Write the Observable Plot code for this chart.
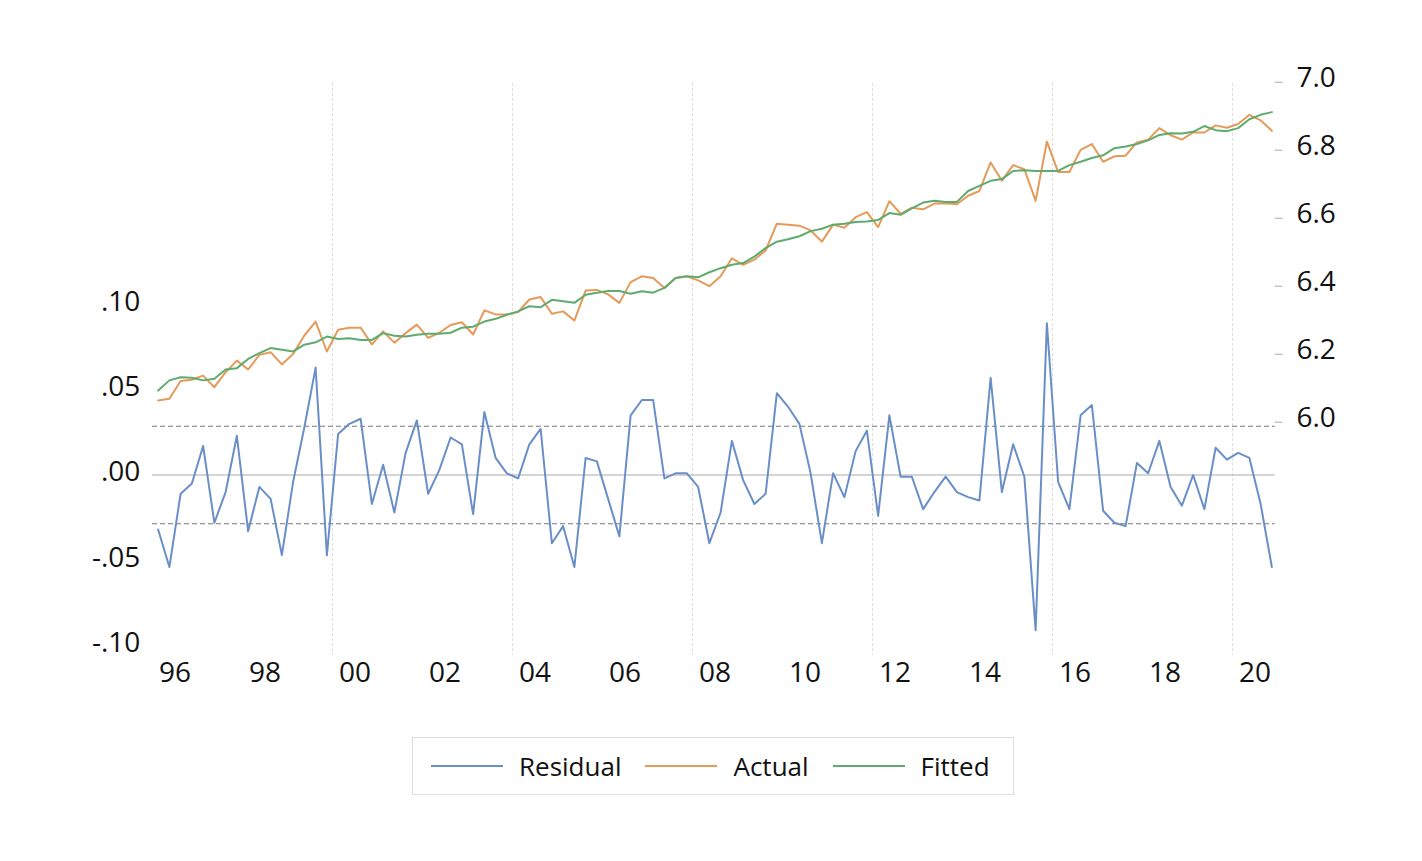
<!DOCTYPE html>
<html><head><meta charset="utf-8">
<script src="https://cdn.jsdelivr.net/npm/d3@7"></script>
<script src="https://cdn.jsdelivr.net/npm/@observablehq/plot@0.6"></script>
<style>
body{margin:0;background:#fff;font-family:"Open Sans",sans-serif;}
#legend{position:absolute;left:412px;top:737px;width:600px;height:56px;border:1px solid #ddd;display:flex;align-items:center;font-size:26px;color:#111;}
.it{display:flex;align-items:center;margin-left:18px;}
.ln{width:72px;height:2px;margin-right:16px;}
</style></head><body>
<div id="chart"></div>
<div id="legend">
<div class="it"><div class="ln" style="background:#6a8fc8"></div>Residual</div>
<div class="it" style="margin-left:24px"><div class="ln" style="background:#e59a5a"></div>Actual</div>
<div class="it" style="margin-left:24px"><div class="ln" style="background:#5fab6e"></div>Fitted</div>
</div>
<script>
const startYear = 1996;
const residual = [-0.032,-0.054,-0.011,-0.005,0.017,-0.028,-0.010,0.023,-0.033,-0.007,-0.014,-0.047,-0.004,0.028,0.063,-0.047,0.024,0.030,0.033,-0.017,0.006,-0.022,0.013,0.032,-0.011,0.003,0.022,0.018,-0.023,0.037,0.010,0.001,-0.002,0.018,0.027,-0.040,-0.030,-0.054,0.010,0.008,-0.014,-0.036,0.035,0.044,0.044,-0.002,0.001,0.001,-0.007,-0.040,-0.022,0.020,-0.003,-0.017,-0.011,0.048,0.040,0.030,0.001,-0.040,0.001,-0.013,0.014,0.026,-0.024,0.035,-0.001,-0.001,-0.020,-0.010,-0.001,-0.010,-0.013,-0.015,0.057,-0.010,0.018,-0.001,-0.091,0.089,-0.004,-0.020,0.035,0.041,-0.021,-0.028,-0.030,0.007,0.001,0.020,-0.007,-0.018,0.000,-0.020,0.016,0.009,0.013,0.010,-0.017,-0.054];
const actual = [6.064,6.069,6.121,6.125,6.137,6.103,6.147,6.181,6.155,6.198,6.206,6.170,6.201,6.255,6.296,6.208,6.272,6.278,6.278,6.229,6.267,6.234,6.262,6.287,6.248,6.263,6.286,6.294,6.258,6.329,6.317,6.317,6.324,6.361,6.368,6.319,6.326,6.299,6.387,6.389,6.376,6.351,6.412,6.429,6.424,6.395,6.424,6.429,6.417,6.400,6.429,6.482,6.463,6.478,6.505,6.584,6.581,6.578,6.564,6.531,6.581,6.572,6.603,6.618,6.574,6.650,6.613,6.631,6.626,6.643,6.644,6.641,6.666,6.680,6.764,6.710,6.756,6.744,6.651,6.825,6.736,6.736,6.801,6.818,6.766,6.782,6.784,6.823,6.831,6.865,6.844,6.831,6.852,6.852,6.873,6.866,6.877,6.904,6.888,6.857];
const fitted = [6.093,6.123,6.132,6.131,6.123,6.128,6.155,6.159,6.186,6.203,6.218,6.213,6.208,6.228,6.235,6.252,6.245,6.247,6.242,6.242,6.262,6.254,6.252,6.257,6.260,6.260,6.263,6.278,6.281,6.296,6.304,6.316,6.326,6.341,6.338,6.360,6.356,6.351,6.375,6.381,6.386,6.386,6.378,6.385,6.381,6.395,6.424,6.429,6.426,6.441,6.453,6.463,6.468,6.487,6.512,6.531,6.538,6.547,6.562,6.569,6.581,6.584,6.589,6.590,6.595,6.615,6.610,6.629,6.646,6.651,6.648,6.648,6.680,6.695,6.710,6.715,6.739,6.741,6.739,6.739,6.739,6.756,6.766,6.777,6.785,6.806,6.811,6.818,6.829,6.845,6.850,6.849,6.854,6.871,6.859,6.856,6.865,6.891,6.904,6.912];
const leftTicks = [-0.10,-0.05,0,0.05,0.10];
const rightTicks = [6.0,6.2,6.4,6.6,6.8,7.0];
const yearLabels = [1996,1998,2000,2002,2004,2006,2008,2010,2012,2014,2016,2018,2020];
const gridYears = [2000,2004,2008,2012,2016,2020];
const sigma = 0.0286;

const lvl = v => (52.8 + (v - 6) * 340) / 1705;
const t = i => startYear + i / 4 + 0.125;
const rows = residual.map((r, i) => ({t: t(i), r, a: lvl(actual[i]), f: lvl(fitted[i])}));
const fmtL = d => d === 0 ? ".00" : (d < 0 ? "-" : "") + Math.abs(d).toFixed(2).replace(/^0/, "");
const xL = 1995.73, xR = 2021.42, xEnd = 2020.95;

const chart = Plot.plot({
  width: 1422, height: 720, margin: 0,
  x: {domain: [1996, 2000], range: [152, 332], axis: null},
  y: {domain: [0, 0.1], range: [474.5, 304], axis: null},
  style: {fontFamily: "Open Sans, sans-serif", overflow: "visible"},
  marks: [
    Plot.ruleX(gridYears, {y1: 0.2296, y2: -0.1059, stroke: "#ddd", strokeDasharray: "3,2", strokeWidth: 1}),
    Plot.ruleY([0], {x1: 1996, x2: xEnd, stroke: "#aaa", strokeWidth: 1}),
    Plot.ruleY([sigma, -sigma], {x1: 1996, x2: xEnd, stroke: "#777", strokeDasharray: "5,3", strokeWidth: 1}),
    Plot.line(rows, {x: "t", y: "a", stroke: "#e59a5a", strokeWidth: 2}),
    Plot.line(rows, {x: "t", y: "f", stroke: "#5fab6e", strokeWidth: 2}),
    Plot.line(rows, {x: "t", y: "r", stroke: "#6a8fc8", strokeWidth: 2}),
    Plot.ruleY(rightTicks, {y: d => lvl(d), x1: xEnd, x2: 2021.12, stroke: "#aaa"}),
    Plot.text(rightTicks, {y: d => lvl(d) + 0.0025, x: xR, text: d => d.toFixed(1), textAnchor: "start", fontSize: 28, fill: "#111"}),
    Plot.text(leftTicks, {y: d => d + 0.0015, x: xL, text: fmtL, textAnchor: "end", fontSize: 28, fill: "#111"}),
    Plot.text(yearLabels, {x: d => d + 0.5, y: -0.1164, text: d => String(d % 100).padStart(2, "0"), fontSize: 28, fill: "#111"})
  ]
});
document.getElementById("chart").appendChild(chart);
</script>
</body></html>
